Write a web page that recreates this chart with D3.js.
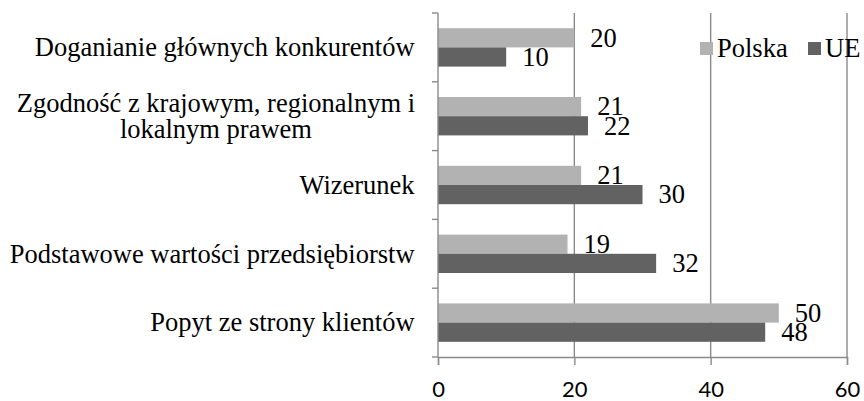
<!DOCTYPE html>
<html>
<head>
<meta charset="utf-8">
<script src="https://cdn.jsdelivr.net/npm/d3@7"></script>
<style>
  html, body { margin: 0; padding: 0; background: #fff; }
  svg { display: block; }
  .serif { font-family: "Liberation Serif", Tinos, "Times New Roman", Times, "DejaVu Serif", serif; }
</style>
</head>
<body>
<svg id="chart" width="864" height="401"></svg>
<script>
const categories = [
  ["Doganianie głównych konkurentów"],
  ["Zgodność z krajowym, regionalnym i", "lokalnym prawem"],
  ["Wizerunek"],
  ["Podstawowe wartości przedsiębiorstw"],
  ["Popyt ze strony klientów"]
];
const seriesNames = ["Polska", "UE"];
const polska = [20, 21, 21, 19, 50];
const ue = [10, 22, 30, 32, 48];
const xTicks = [0, 20, 40, 60];
const colors = ["#b2b2b2", "#626262"];

(function () {
const svg = d3.select("#chart");
const mLeft = 438, mRight = 847, mTop = 13, mBottom = 357;
const gridColor = "#8a8a8a";
const fs = 26.5;

const x = d3.scaleLinear().domain([0, 60]).range([mLeft, mRight]);
const y = d3.scaleBand().domain(d3.range(categories.length)).range([mTop, mBottom]).paddingInner(0).paddingOuter(0);
const barH = 19.2;
const series = [polska, ue];

svg.append("g").selectAll("line").data(xTicks.filter(d => d > 0)).join("line")
  .attr("x1", d => x(d)).attr("x2", d => x(d))
  .attr("y1", mTop).attr("y2", mBottom)
  .attr("stroke", gridColor).attr("stroke-width", 1.4);

series.forEach((vals, si) => {
  svg.append("g").selectAll("rect").data(vals).join("rect")
    .attr("x", x(0))
    .attr("y", (d, i) => y(i) + (y.bandwidth() - 2 * barH) / 2 + si * barH)
    .attr("width", d => x(d) - x(0))
    .attr("height", barH)
    .attr("fill", colors[si]);
});

series.forEach((vals, si) => {
  svg.append("g").selectAll("text").data(vals).join("text")
    .attr("class", "serif")
    .attr("x", d => x(d) + 16)
    .attr("y", (d, i) => y(i) + (y.bandwidth() - 2 * barH) / 2 + si * barH + barH / 2)
    .attr("dy", "0.33em")
    .attr("font-size", fs)
    .attr("fill", "#000")
    .text(d => d);
});

const xAxis = svg.append("g").attr("transform", `translate(0,${mBottom})`)
  .call(d3.axisBottom(x).tickValues(xTicks).tickSize(8).tickPadding(16).tickFormat(d3.format("d")));
xAxis.select(".domain").attr("stroke", gridColor).attr("stroke-width", 1.4);
xAxis.selectAll(".tick line").attr("stroke", gridColor).attr("stroke-width", 1.4);
xAxis.selectAll(".tick text").attr("font-family", "Lato, 'Open Sans', sans-serif").attr("font-size", 22).attr("fill", "#000");

svg.append("line").attr("x1", mLeft).attr("x2", mLeft).attr("y1", mTop).attr("y2", mBottom)
  .attr("stroke", gridColor).attr("stroke-width", 1.4);
svg.append("g").selectAll("line").data(d3.range(categories.length + 1)).join("line")
  .attr("x1", mLeft - 6).attr("x2", mLeft)
  .attr("y1", i => mTop + i * y.bandwidth()).attr("y2", i => mTop + i * y.bandwidth())
  .attr("stroke", gridColor).attr("stroke-width", 1.4);

const lineH = 26;
categories.forEach((lines, i) => {
  const cy = y(i) + y.bandwidth() / 2;
  const t = svg.append("text")
    .attr("class", "serif")
    .attr("text-anchor", "middle")
    .attr("font-size", fs).attr("fill", "#000");
  lines.forEach((ln, k) => {
    t.append("tspan")
      .attr("x", 0)
      .attr("y", cy + (k - (lines.length - 1) / 2) * lineH)
      .attr("dy", "0.33em")
      .text(ln);
  });
  const bb = t.node().getBBox();
  const cx = 415 - bb.width / 2;
  t.selectAll("tspan").attr("x", cx);
});

const legX = [700, 808];
seriesNames.forEach((name, si) => {
  svg.append("rect").attr("x", legX[si]).attr("y", 42).attr("width", 13).attr("height", 13).attr("fill", colors[si]);
  svg.append("text").attr("class", "serif").attr("x", legX[si] + 17).attr("y", 48.5).attr("dy", "0.33em")
    .attr("font-size", fs).attr("fill", "#000").text(name);
});
})();
</script>
</body>
</html>
